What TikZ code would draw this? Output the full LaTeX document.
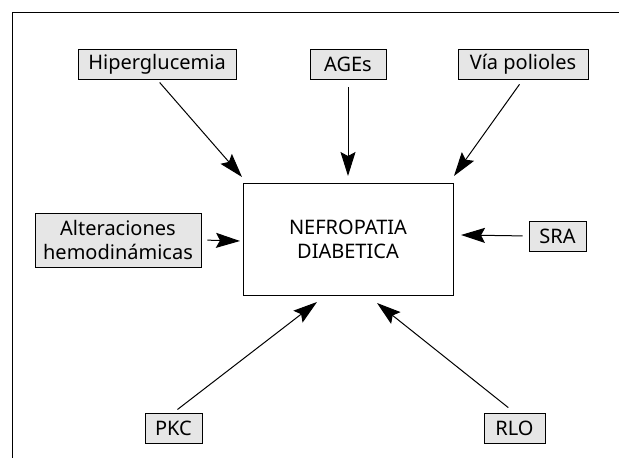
\documentclass[tikz,border=0pt]{standalone}
\usepackage{fontspec}
\setmainfont{Noto Sans}
\usetikzlibrary{arrows.meta}

\definecolor{boxgray}{RGB}{230,230,230}

\begin{document}
\begin{tikzpicture}[x=1pt, y=-1pt, line join=miter,
    factor/.style={draw, fill=boxgray, line width=0.9pt, minimum height=30pt,
        inner sep=1pt, font=\fontsize{20}{24}\selectfont, align=center},
    effect/.style={draw, line width=0.9pt, minimum width=210pt, minimum height=112pt,
        font=\fontsize{20}{24}\selectfont, align=center},
    arr/.style={line width=1pt, -{Stealth[length=24pt, width=15pt, inset=4pt]}}]

    \useasboundingbox (0,0) rectangle (619,460);

    % Frame (top and left only)
    \draw[line width=0.9pt] (619,12) -- (12,12) -- (12,458);

    % Central box
    \node[effect] (nefro) at (348,239) {NEFROPATIA\\DIABETICA};

    % Causes
    \node[factor, minimum width=158pt] (hiper) at (157,64) {Hiperglucemia};
    \node[factor, minimum width=76pt] (ages) at (348,64) {AGEs};
    \node[factor, minimum width=130pt] (poliol) at (523,64) {Vía polioles};
    \node[factor, minimum width=166pt, minimum height=54pt] (hemo) at (118,240) {Alteraciones\\hemodinámicas};
    \node[factor, minimum width=57pt] (sra) at (557.5,236) {SRA};
    \node[factor, minimum width=57pt] (pkc) at (173.5,428) {PKC};
    \node[factor, minimum width=61pt] (rlo) at (514.5,428) {RLO};

    % Arrow tips near the central box
    \coordinate (tHiper) at (242,177);
    \coordinate (tAges) at (348,176);
    \coordinate (tPoliol) at (454,176);
    \coordinate (tHemo) at (240,241);
    \coordinate (tSra) at (461,235);
    \coordinate (tPkc) at (317,302);
    \coordinate (tRlo) at (377,303);

    % Arrows
    \draw[arr, shorten <=4pt] (hiper.south) -- (tHiper);
    \draw[arr, shorten <=8pt] (ages.south) -- (tAges);
    \draw[arr, shorten <=6pt] (poliol.south) -- (tPoliol);
    \draw[arr, shorten <=6pt] (hemo.east) -- (tHemo);
    \draw[arr, shorten <=6pt] (sra.west) -- (tSra);
    \draw[arr, shorten <=5pt] (pkc.north) -- (tPkc);
    \draw[arr, shorten <=8pt] (rlo.north) -- (tRlo);

\end{tikzpicture}
\end{document}
